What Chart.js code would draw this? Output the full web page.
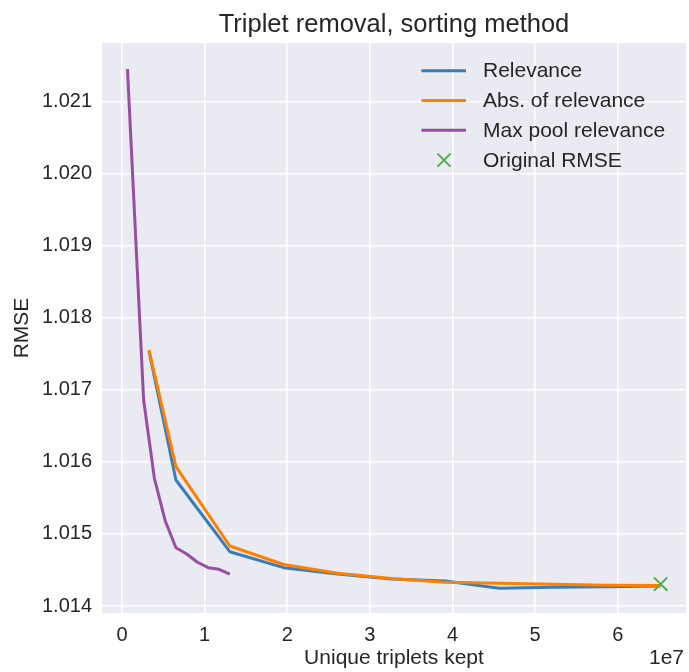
<!DOCTYPE html>
<html>
<head>
<meta charset="utf-8">
<script src="https://cdn.jsdelivr.net/npm/chart.js@4/dist/chart.umd.min.js"></script>
<style>
  html, body { margin: 0; padding: 0; background: #ffffff; }
  #wrap { width: 689px; height: 672px; position: relative; }
</style>
</head>
<body>
<div id="wrap"><canvas id="c" width="689" height="672"></canvas></div>
<script>
// ---- data ----
const titleText = 'Triplet removal, sorting method';
const xAxisTitle = 'Unique triplets kept';
const yAxisTitle = 'RMSE';
const seriesNames = ['Relevance', 'Abs. of relevance', 'Max pool relevance', 'Original RMSE'];

const sortedKept = [3.26e6, 6.52e6, 13.04e6, 19.56e6, 26.08e6, 32.6e6, 39.12e6, 45.64e6, 52.16e6, 58.68e6, 65.2e6];
const relevanceRmse = [1.01754, 1.015749, 1.014754, 1.014532, 1.014444, 1.014375, 1.014347, 1.014246, 1.01426, 1.014268, 1.014278];
const absRelevanceRmse = [1.017554, 1.015934, 1.014833, 1.014576, 1.014454, 1.014382, 1.014329, 1.014315, 1.014301, 1.014287, 1.014285];

const maxPoolKept = [0.652e6, 2.608e6, 3.912e6, 5.216e6, 6.52e6, 7.824e6, 9.128e6, 10.432e6, 11.736e6, 13.04e6];
const maxPoolRmse = [1.021454, 1.01686, 1.015773, 1.015184, 1.014809, 1.014722, 1.014607, 1.014532, 1.014509, 1.014444];

const originalKept = [65.2e6];
const originalRmse = [1.014304];

const xTickValues = [0, 1e7, 2e7, 3e7, 4e7, 5e7, 6e7];
const xTickLabels = ['0', '1', '2', '3', '4', '5', '6'];
const yTickValues = [1.014, 1.015, 1.016, 1.017, 1.018, 1.019, 1.020, 1.021];
const yTickLabels = ['1.014', '1.015', '1.016', '1.017', '1.018', '1.019', '1.020', '1.021'];

// ---- styling ----
const colors = ['#377eb8', '#ff7f00', '#984ea3', '#4daf4a'];
const FONT = "'Liberation Sans', Arial, Helvetica, sans-serif";
const TEXT = '#262626';

function pts(xs, ys) { return xs.map((x, i) => ({ x: x, y: ys[i] })); }

const bgPlugin = {
  id: 'plotBg',
  beforeDraw(chart) {
    const { ctx, chartArea: a } = chart;
    ctx.save();
    ctx.fillStyle = '#EAEAF2';
    ctx.fillRect(a.left, a.top, a.right - a.left, a.bottom - a.top);
    ctx.restore();
  }
};

const textPlugin = {
  id: 'texts',
  afterDraw(chart) {
    const { ctx, chartArea: a } = chart;
    const cx = (a.left + a.right) / 2;
    ctx.save();
    ctx.fillStyle = TEXT;
    // title
    ctx.font = '25.5px ' + FONT;
    ctx.textAlign = 'center';
    ctx.textBaseline = 'alphabetic';
    ctx.fillText(titleText, cx, 31.5);
    // x title
    ctx.font = '21px ' + FONT;
    ctx.fillText(xAxisTitle, cx, 664);
    // offset text
    ctx.textAlign = 'right';
    ctx.fillText('1e7', a.right - 2, 664);
    // y title
    ctx.save();
    ctx.translate(28, (a.top + a.bottom) / 2);
    ctx.rotate(-Math.PI / 2);
    ctx.textAlign = 'center';
    ctx.fillText(yAxisTitle, 0, 0);
    ctx.restore();

    // legend
    const rows = [70.7, 100.5, 130.3, 160.1];
    ctx.font = '21px ' + FONT;
    ctx.textAlign = 'left';
    ctx.textBaseline = 'middle';
    for (let i = 0; i < seriesNames.length; i++) {
      const y = rows[i];
      if (i < 3) {
        ctx.strokeStyle = colors[i];
        ctx.lineWidth = 3;
        ctx.beginPath();
        ctx.moveTo(421.5, y);
        ctx.lineTo(466, y);
        ctx.stroke();
      } else {
        ctx.strokeStyle = colors[3];
        ctx.lineWidth = 2;
        const r = 6.5;
        ctx.beginPath();
        ctx.moveTo(444 - r, y - r); ctx.lineTo(444 + r, y + r);
        ctx.moveTo(444 - r, y + r); ctx.lineTo(444 + r, y - r);
        ctx.stroke();
      }
      ctx.fillStyle = TEXT;
      ctx.fillText(seriesNames[i], 483, y + 1);
    }
    ctx.restore();
  }
};

new Chart(document.getElementById('c'), {
  type: 'scatter',
  data: {
    datasets: [
      { label: seriesNames[0], data: pts(sortedKept, relevanceRmse), showLine: true,
        borderColor: colors[0], backgroundColor: colors[0], borderWidth: 3, pointRadius: 0,
        borderJoinStyle: 'round', order: 3 },
      { label: seriesNames[1], data: pts(sortedKept, absRelevanceRmse), showLine: true,
        borderColor: colors[1], backgroundColor: colors[1], borderWidth: 3, pointRadius: 0,
        borderJoinStyle: 'round', order: 2 },
      { label: seriesNames[2], data: pts(maxPoolKept, maxPoolRmse), showLine: true,
        borderColor: colors[2], backgroundColor: colors[2], borderWidth: 3, pointRadius: 0,
        borderJoinStyle: 'round', order: 1 },
      { label: seriesNames[3], data: pts(originalKept, originalRmse), showLine: false,
        borderColor: colors[3], backgroundColor: colors[3], pointStyle: 'crossRot',
        pointRadius: 9.5, pointBorderWidth: 2, borderWidth: 2, order: 0 }
    ]
  },
  options: {
    responsive: false,
    animation: false,
    devicePixelRatio: 1,
    layout: { autoPadding: false, padding: { top: 43, right: 3, left: 0, bottom: 0 } },
    plugins: { legend: { display: false }, title: { display: false }, tooltip: { enabled: false } },
    scales: {
      x: {
        type: 'linear',
        bounds: 'data',
        min: -2.43e6,
        max: 68.27e6,
        afterBuildTicks(s) { s.ticks = xTickValues.map(v => ({ value: v })); },
        afterFit(s) { s.height = 59; s.paddingLeft = 0; s.paddingRight = 0; },
        border: { display: false },
        grid: { color: '#ffffff', lineWidth: 1.6, drawTicks: false },
        ticks: {
          padding: 10,
          color: TEXT,
          font: { family: FONT, size: 20 },
          maxRotation: 0,
          autoSkip: false,
          callback: (v) => xTickLabels[xTickValues.indexOf(v)]
        }
      },
      y: {
        type: 'linear',
        bounds: 'data',
        min: 1.013903,
        max: 1.021815,
        afterBuildTicks(s) { s.ticks = yTickValues.map(v => ({ value: v })); },
        afterFit(s) { s.width = 102; s.paddingTop = 0; s.paddingBottom = 0; },
        border: { display: false },
        grid: { color: '#ffffff', lineWidth: 1.6, drawTicks: false },
        ticks: {
          padding: 10,
          color: TEXT,
          font: { family: FONT, size: 20 },
          autoSkip: false,
          callback: (v) => yTickLabels[yTickValues.indexOf(v)]
        }
      }
    }
  },
  plugins: [bgPlugin, textPlugin]
});
</script>
</body>
</html>
